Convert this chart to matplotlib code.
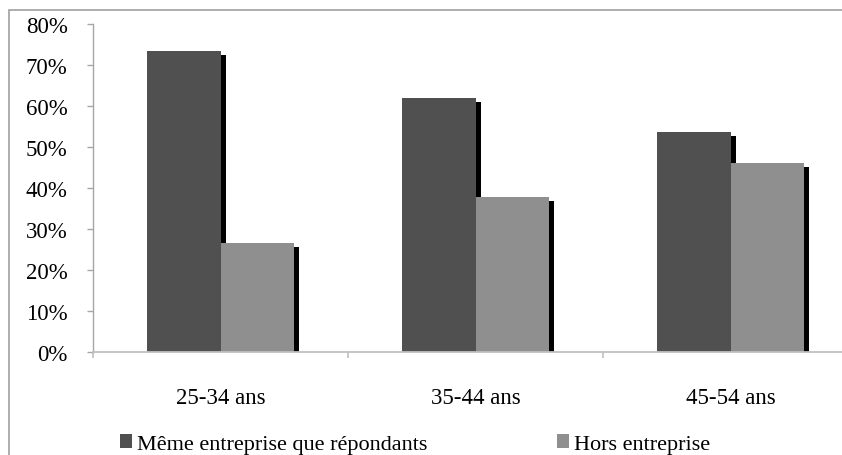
import numpy as np
import matplotlib
matplotlib.use("Agg")
import matplotlib.pyplot as plt
import matplotlib.transforms as mtransforms
from matplotlib.patches import Rectangle, Patch

plt.rcParams['font.family'] = ['Liberation Serif', 'DejaVu Serif']

categories = ['25-34 ans', '35-44 ans', '45-54 ans']
meme_entreprise = [73.3, 62.0, 53.7]
hors_entreprise = [26.6, 37.9, 46.1]
series_names = ['Même entreprise que répondants', 'Hors entreprise']
colors = ['#505050', '#8f8f8f']

W, H = 842, 456
fig = plt.figure(figsize=(W / 100, H / 100), dpi=100)

# plot area goes past the right edge (reference is cropped there)
ax = fig.add_axes([93 / W, (H - 353.3) / H, 765 / W, 328.5 / H])

x = np.arange(len(categories))
bw = 0.2863

# black drop shadows, offset right and down
shadow_tr = ax.transData + mtransforms.ScaledTranslation(5 / 100, -4 / 100, fig.dpi_scale_trans)
for vals, off in [(meme_entreprise, -bw / 2), (hors_entreprise, bw / 2)]:
    sh = ax.bar(x + off, vals, bw, color='black', zorder=1, linewidth=0)
    for p in sh:
        p.set_transform(shadow_tr)

ax.bar(x - bw / 2, meme_entreprise, bw, color=colors[0], zorder=2, linewidth=0)
ax.bar(x + bw / 2, hors_entreprise, bw, color=colors[1], zorder=3, linewidth=0)

ax.set_xlim(-0.5, 2.5)
ax.set_ylim(0, 80)

ax.set_yticks(np.arange(0, 81, 10))
ax.set_yticklabels([f'{v}%' for v in range(0, 81, 10)], fontsize=16.5)
ax.tick_params(axis='y', direction='out', length=4.3, width=1, color='#a6a6a6', pad=14)

ax.set_xticks([-0.5, 0.5, 1.5, 2.5])
ax.set_xticklabels([])
ax.set_xticks(x, minor=True)
ax.set_xticklabels(categories, minor=True, fontsize=16.5)
ax.tick_params(axis='x', which='major', direction='out', length=4.6, width=1.2, color='#c0c0c0')
ax.tick_params(axis='x', which='minor', length=0, pad=25)

for s in ['top', 'right']:
    ax.spines[s].set_visible(False)
ax.spines['left'].set_color('#a6a6a6')
ax.spines['left'].set_linewidth(1)
ax.spines['bottom'].set_color('#c0c0c0')
ax.spines['bottom'].set_linewidth(1.3)
ax.spines['bottom'].set_zorder(4)

handles = [Patch(facecolor=c, edgecolor='none') for c in colors]
fig.legend(handles, series_names, loc='center', bbox_to_anchor=(415 / W, 1 - 445 / H),
           ncol=2, frameon=False, fontsize=16, handlelength=0.55, handleheight=0.55,
           handletextpad=0.25, columnspacing=5.8, borderpad=0)

# outer chart border (cropped at right and bottom)
fig.add_artist(Rectangle((9 / W, -0.1), 2, 1 - 11 / H + 0.1, transform=fig.transFigure,
                         facecolor='none', edgecolor='#a0a0a0', linewidth=1.2))

fig.savefig('out.png', dpi=100)
